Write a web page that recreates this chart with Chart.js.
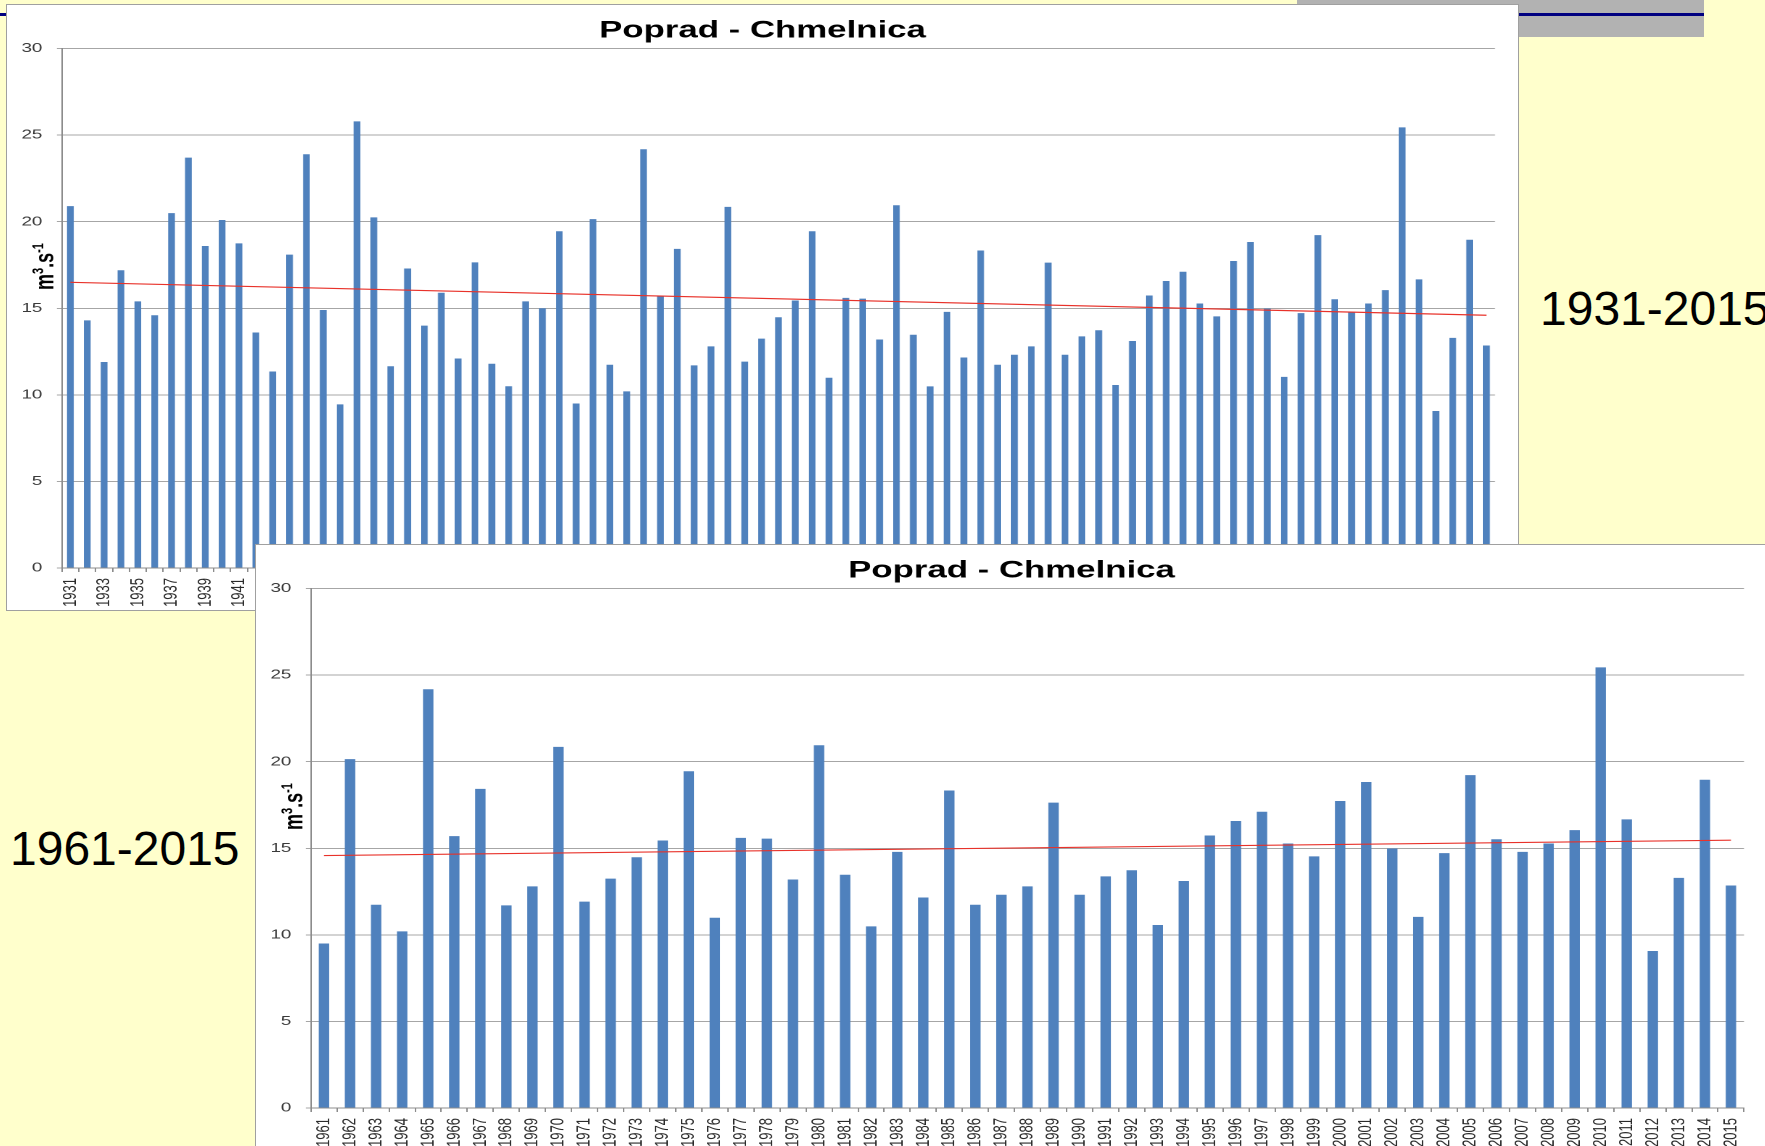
<!DOCTYPE html>
<html>
<head>
<meta charset="utf-8">
<script src="https://cdn.jsdelivr.net/npm/chart.js@4.4.1/dist/chart.umd.min.js"></script>
<style>
  html, body { margin: 0; padding: 0; }
  body { width: 1765px; height: 1146px; background: #ffffcc; position: relative; overflow: hidden; font-family: 'Liberation Sans', Arial, sans-serif; }
  .greybar { position: absolute; left: 1297px; top: 0; width: 407px; height: 37px; background: #b2b2b2; }
  .rule { position: absolute; left: 0; top: 13px; width: 1704px; height: 3px; background: #000080; }
  .panel { position: absolute; width: 1513px; height: 607px; box-sizing: border-box; border: 1px solid #a0a0a0; background: #fff; overflow: hidden; }
  .panel canvas { position: absolute; left: 0; top: 0; transform-origin: 0 0; transform: scaleX(1.45); }
  .period { position: absolute; font-size: 48px; line-height: 1; color: #000; white-space: nowrap; }
</style>
</head>
<body>
<div class="greybar"></div>
<div class="rule"></div>

<div class="panel" style="left:6px; top:4px;"><canvas id="longChart" width="1042" height="605"></canvas></div>
<div class="period" style="left:1540px; top:285px;">1931-2015</div>

<div class="panel" style="left:255px; top:544px;"><canvas id="shortChart" width="1042" height="605"></canvas></div>
<div class="period" style="left:10px; top:825px;">1961-2015</div>

<script>
// mean annual discharge, Poprad - Chmelnica [m3/s]
const years1931to1960 = ['1931','1932','1933','1934','1935','1936','1937','1938','1939','1940',
  '1941','1942','1943','1944','1945','1946','1947','1948','1949','1950',
  '1951','1952','1953','1954','1955','1956','1957','1958','1959','1960'];
const years1961to2015 = ['1961','1962','1963','1964','1965','1966','1967','1968','1969','1970',
  '1971','1972','1973','1974','1975','1976','1977','1978','1979','1980',
  '1981','1982','1983','1984','1985','1986','1987','1988','1989','1990',
  '1991','1992','1993','1994','1995','1996','1997','1998','1999','2000',
  '2001','2002','2003','2004','2005','2006','2007','2008','2009','2010',
  '2011','2012','2013','2014','2015'];

const flow1931to1960 = [20.9, 14.3, 11.9, 17.2, 15.4, 14.6, 20.5, 23.7, 18.6, 20.1,
  18.75, 13.6, 11.35, 18.1, 23.9, 14.9, 9.45, 25.8, 20.25, 11.65,
  17.3, 14.0, 15.9, 12.1, 17.65, 11.8, 10.5, 15.4, 15.0, 19.45];
const flow1961to2015 = [9.5, 20.15, 11.74, 10.2, 24.19, 15.7, 18.43, 11.7, 12.8, 20.86,
  11.92, 13.25, 14.48, 15.45, 19.45, 10.99, 15.6, 15.56, 13.2, 20.95,
  13.47, 10.49, 14.79, 12.16, 18.34, 11.74, 12.32, 12.8, 17.64, 12.32,
  13.38, 13.73, 10.57, 13.11, 15.74, 16.58, 17.11, 15.28, 14.53, 17.73,
  18.83, 14.99, 11.04, 14.72, 19.23, 15.52, 14.79, 15.28, 16.05, 25.45,
  16.67, 9.07, 13.29, 18.96, 12.85];

// linear trend end points
const trendLongYears = ['1931', '2015'];
const trendLongValues = [16.5, 14.6];
const trendShortYears = ['1961', '2015'];
const trendShortValues = [14.58, 15.47];

const yTicks = [0, 5, 10, 15, 20, 25, 30];

// rotated "m3.s-1" with superscripts, sits between the 20 and 15 tick labels
const unitTitle = {
  id: 'unitTitle',
  afterDraw(chart) {
    const ctx = chart.ctx;
    const size = 18;
    const sup = 11;
    const parts = [['m', size, 0], ['3', sup, -7], ['.s', size, 0], ['-1', sup, -7]];
    ctx.save();
    ctx.translate(27.5, chart.chartArea.top + 218);
    ctx.rotate(-Math.PI / 2);
    ctx.fillStyle = '#000';
    ctx.textBaseline = 'alphabetic';
    let total = 0;
    parts.forEach(p => {
      ctx.font = 'bold ' + p[1] + 'px "Liberation Sans"';
      total += ctx.measureText(p[0]).width;
    });
    let x = -total / 2;
    parts.forEach(p => {
      ctx.font = 'bold ' + p[1] + 'px "Liberation Sans"';
      ctx.fillText(p[0], x, 4.7 + p[2]);
      x += ctx.measureText(p[0]).width;
    });
    ctx.restore();
  }
};

const makeChart = (id, labels, values, trendYears, trendValues, everyOther) => {
  const ctx = document.getElementById(id);
  new Chart(ctx, {
    type: 'bar',
    data: {
      labels: labels,
      datasets: [
        {
          type: 'line',
          data: trendYears.map((y, i) => ({ x: y, y: trendValues[i] })),
          borderColor: '#e8322a',
          borderWidth: 1.2,
          pointRadius: 0,
          fill: false,
          order: 0
        },
        {
          type: 'bar',
          data: values,
          backgroundColor: '#4f81bd',
          barPercentage: 0.4,
          categoryPercentage: 1,
          order: 1
        }
      ]
    },
    options: {
      responsive: false,
      animation: false,
      devicePixelRatio: 2,
      layout: { padding: 0 },
      plugins: {
        legend: { display: false },
        tooltip: { enabled: false },
        title: {
          display: true,
          text: 'Poprad - Chmelnica',
          color: '#000',
          font: { family: '"Liberation Sans"', size: 24, weight: 'bold', lineHeight: 1.2 },
          padding: { top: 11.4, bottom: 3.4 }
        }
      },
      scales: {
        x: {
          afterFit: s => { s.height = 42; },
          grid: { offset: true, drawOnChartArea: false, drawTicks: true, tickLength: 4, color: '#8c8c8c' },
          border: { color: '#8c8c8c' },
          ticks: {
            autoSkip: false,
            minRotation: 90,
            maxRotation: 90,
            padding: 6,
            color: '#2a2a2a',
            font: { family: '"Liberation Sans Narrow", "Liberation Sans"', size: 13 },
            callback: function (v, i) {
              return everyOther && i % 2 ? '' : this.getLabelForValue(v);
            }
          }
        },
        y: {
          min: yTicks[0],
          max: yTicks[yTicks.length - 1],
          afterFit: s => { s.width = 37.9; },
          afterBuildTicks: s => { s.ticks = yTicks.map(v => ({ value: v })); },
          grid: { color: '#a6a6a6', tickLength: 3.5 },
          border: { color: '#8c8c8c' },
          ticks: { padding: 10, color: '#3a3a3a', font: { family: '"Liberation Sans"', size: 13 } }
        },
        // empty right-hand gutter, so the title stays centred on the whole chart
        gutter: {
          position: 'right',
          afterFit: s => { s.width = 15.8; },
          ticks: { display: false },
          grid: { display: false, drawTicks: false },
          border: { display: false }
        }
      }
    },
    plugins: [unitTitle]
  });
};

makeChart('longChart', years1931to1960.concat(years1961to2015), flow1931to1960.concat(flow1961to2015),
  trendLongYears, trendLongValues, true);
makeChart('shortChart', years1961to2015, flow1961to2015, trendShortYears, trendShortValues, false);
</script>
</body>
</html>
